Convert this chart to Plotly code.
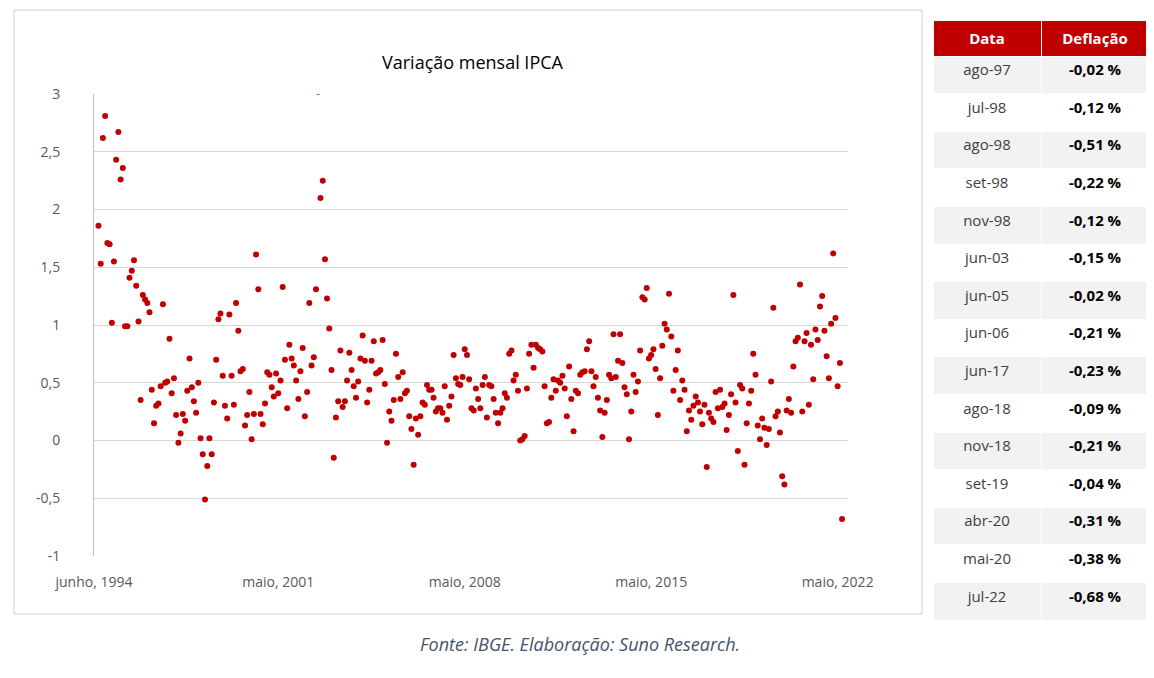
import plotly.graph_objs as go

W, H = 1154, 678

# IPCA monthly variation (%), from jul/1994
ipca = [
    6.84, 1.86, 1.53, 2.62, 2.81, 1.71,
    1.70, 1.02, 1.55, 2.43, 2.67, 2.26, 2.36, 0.99, 0.99, 1.41, 1.47, 1.56,
    1.34, 1.03, 0.35, 1.26, 1.22, 1.19, 1.11, 0.44, 0.15, 0.30, 0.32, 0.47,
    1.18, 0.50, 0.51, 0.88, 0.41, 0.54, 0.22, -0.02, 0.06, 0.23, 0.17, 0.43,
    0.71, 0.46, 0.34, 0.24, 0.50, 0.02, -0.12, -0.51, -0.22, 0.02, -0.12, 0.33,
    0.70, 1.05, 1.10, 0.56, 0.30, 0.19, 1.09, 0.56, 0.31, 1.19, 0.95, 0.60,
    0.62, 0.13, 0.22, 0.42, 0.01, 0.23, 1.61, 1.31, 0.23, 0.14, 0.32, 0.59,
    0.57, 0.46, 0.38, 0.58, 0.41, 0.52, 1.33, 0.70, 0.28, 0.83, 0.71, 0.65,
    0.52, 0.36, 0.60, 0.80, 0.21, 0.42, 1.19, 0.65, 0.72, 1.31, 3.02, 2.10,
    2.25, 1.57, 1.23, 0.97, 0.61, -0.15, 0.20, 0.34, 0.78, 0.29, 0.34, 0.52,
    0.76, 0.61, 0.47, 0.37, 0.51, 0.71, 0.91, 0.69, 0.33, 0.44, 0.69, 0.86,
    0.58, 0.59, 0.61, 0.87, 0.49, -0.02, 0.25, 0.17, 0.35, 0.75, 0.55, 0.36,
    0.59, 0.41, 0.43, 0.21, 0.10, -0.21, 0.19, 0.05, 0.21, 0.33, 0.31, 0.48,
    0.44, 0.44, 0.37, 0.25, 0.28, 0.28, 0.24, 0.47, 0.18, 0.30, 0.38, 0.74,
    0.54, 0.49, 0.48, 0.55, 0.79, 0.74, 0.53, 0.28, 0.26, 0.45, 0.36, 0.28,
    0.48, 0.55, 0.20, 0.48, 0.47, 0.36, 0.24, 0.15, 0.24, 0.28, 0.41, 0.37,
    0.75, 0.78, 0.52, 0.57, 0.43, 0.00, 0.01, 0.04, 0.45, 0.75, 0.83, 0.63,
    0.83, 0.80, 0.79, 0.77, 0.47, 0.15, 0.16, 0.37, 0.53, 0.43, 0.52, 0.50,
    0.56, 0.45, 0.21, 0.64, 0.36, 0.08, 0.43, 0.41, 0.57, 0.59, 0.60, 0.79,
    0.86, 0.60, 0.47, 0.55, 0.37, 0.26, 0.03, 0.24, 0.35, 0.57, 0.54, 0.92,
    0.55, 0.69, 0.92, 0.67, 0.46, 0.40, 0.01, 0.25, 0.57, 0.42, 0.51, 0.78,
    1.24, 1.22, 1.32, 0.71, 0.74, 0.79, 0.62, 0.22, 0.54, 0.82, 1.01, 0.96,
    1.27, 0.90, 0.43, 0.61, 0.78, 0.35, 0.52, 0.44, 0.08, 0.26, 0.18, 0.30,
    0.38, 0.33, 0.25, 0.14, 0.31, -0.23, 0.24, 0.19, 0.16, 0.42, 0.28, 0.44,
    0.29, 0.32, 0.09, 0.22, 0.40, 1.26, 0.33, -0.09, 0.48, 0.45, -0.21, 0.15,
    0.32, 0.43, 0.75, 0.57, 0.13, 0.01, 0.19, 0.11, -0.04, 0.10, 0.51, 1.15,
    0.21, 0.25, 0.07, -0.31, -0.38, 0.26, 0.36, 0.24, 0.64, 0.86, 0.89, 1.35,
    0.25, 0.86, 0.93, 0.31, 0.83, 0.53, 0.96, 0.87, 1.16, 1.25, 0.95, 0.73,
    0.54, 1.01, 1.62, 1.06, 0.47, 0.67, -0.68,
]
dates = []
y, m = 1994, 7
for _ in ipca:
    dates.append('%d-%02d-01' % (y, m))
    m += 1
    if m > 12:
        m, y = 1, y + 1

datas = ['ago-97', 'jul-98', 'ago-98', 'set-98', 'nov-98', 'jun-03', 'jun-05', 'jun-06',
         'jun-17', 'ago-18', 'nov-18', 'set-19', 'abr-20', 'mai-20', 'jul-22']
deflacao = ['-0,02 %', '-0,12 %', '-0,51 %', '-0,22 %', '-0,12 %', '-0,15 %', '-0,02 %', '-0,21 %',
            '-0,23 %', '-0,09 %', '-0,21 %', '-0,04 %', '-0,31 %', '-0,38 %', '-0,68 %']

def px(v):
    return v / W

def py(v):
    return 1 - v / H

data = [
    go.Scatter(x=dates, y=ipca, mode='markers',
               marker=dict(color='#c00000', size=6), cliponaxis=True, showlegend=False),
    go.Table(
        domain=dict(x=[px(925), px(1142)], y=[py(612), py(12)]),
        columnwidth=[1, 1],
        header=dict(values=['<b>Data</b>', '<b>Deflação</b>'], fill_color='#c00000',
                    font=dict(color='white', size=15, family='Open Sans'),
                    line_color='white', height=36, align='center'),
        cells=dict(values=[datas, deflacao],
                   fill_color=[['#f2f2f2' if i % 2 == 0 else 'white' for i in range(15)]] * 2,
                   font=dict(color=['#404040', '#000000'], size=15, family='Open Sans',
                             weight=['normal', 'bold']),
                   line_color='white', height=37.6, align='center'),
    ),
]

layout = go.Layout(
    width=W, height=H,
    margin=dict(l=0, r=0, t=0, b=0),
    paper_bgcolor='white', plot_bgcolor='white',
    font=dict(family='Open Sans', color='#595959', size=14),
    xaxis=dict(domain=[px(86), px(840)], type='date', automargin=False,
               range=['1994-06-01', '2022-09-20'],
               tickvals=['1994-06-01', '2001-05-01', '2008-05-01', '2015-05-01', '2022-05-01'],
               ticktext=['junho, 1994', 'maio, 2001', 'maio, 2008', 'maio, 2015', 'maio, 2022'],
               showgrid=False, showline=False, zeroline=False, ticks='',
               ticklabelstandoff=16),
    yaxis=dict(domain=[py(548), py(86)], range=[-1, 3], automargin=False,
               tickvals=[-1, -0.5, 0, 0.5, 1, 1.5, 2, 2.5, 3],
               ticktext=['-1', '-0,5', '0', '0,5', '1', '1,5', '2', '2,5', '3'],
               gridcolor='#d9d9d9', zeroline=False, showline=True, linecolor='#bfbfbf',
               ticklabelstandoff=30),
    shapes=[dict(type='rect', xref='paper', yref='paper', x0=px(6), x1=px(914),
                 y0=py(606), y1=py(2), line=dict(color='#d0d0d0', width=1))],
    annotations=[
        dict(text='Variação mensal IPCA', xref='paper', yref='paper', x=px(465), y=py(40),
             showarrow=False, font=dict(size=18, color='#000000')),
        dict(text='<i>Fonte: IBGE. Elaboração: Suno Research.</i>', xref='paper', yref='paper',
             x=px(572), y=py(650), showarrow=False, font=dict(size=18, color='#44546a')),
    ],
)

fig = go.Figure(data=data, layout=layout)
fig.write_html('out.html')
